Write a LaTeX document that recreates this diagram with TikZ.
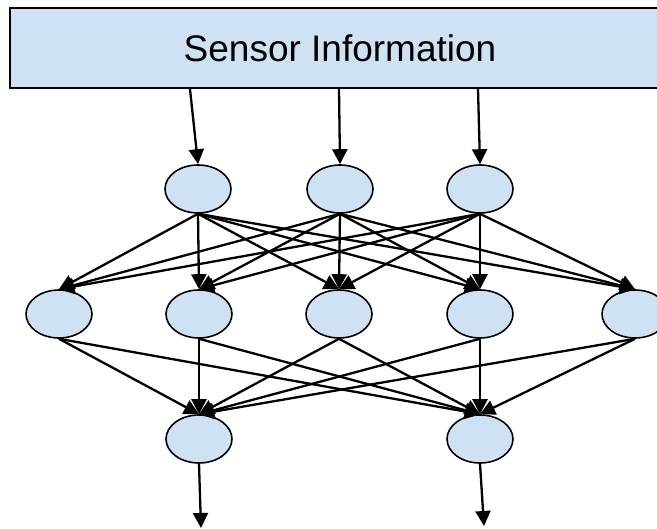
\documentclass[tikz,border=0pt]{standalone}
\usepackage{fontspec}
\setmainfont{Liberation Sans}
\usetikzlibrary{arrows.meta,shapes.geometric}
\definecolor{cellblue}{HTML}{CFE2F3}
\tikzset{
  neuron/.style={ellipse,draw,line width=1.6pt,fill=cellblue,minimum width=66pt,minimum height=48pt,inner sep=0pt},
  link/.style={line width=2.3pt,-{Triangle[length=15pt,width=15pt]}}
}

\begin{document}
\begin{tikzpicture}[x=1pt,y=-1pt]
    \useasboundingbox (0,0) rectangle (657,529);
    \clip (0,0) rectangle (657,529);
    \node[draw,line width=1.6pt,fill=cellblue,minimum width=660pt,minimum height=80pt,inner sep=0pt,
        font=\fontsize{37}{40}\selectfont] (sensor) at (340,48) {Sensor Information};
    \foreach \x [count=\k] in {198,340,480}
        \node[neuron] (t\k) at (\x,189) {};
    \foreach \x [count=\k] in {59,199,339,480,635}
        \node[neuron] (m\k) at (\x,314) {};
    \foreach \x [count=\k] in {199,480}
        \node[neuron] (b\k) at (\x,439) {};
    \coordinate (s1) at (190,89);
    \coordinate (s2) at (339,89);
    \coordinate (s3) at (478,89);
    \coordinate (o1) at (201,528);
    \coordinate (o2) at (484,526);
    \foreach \k in {1,2,3}
        \draw[link] (s\k) -- (t\k.north);
    \foreach \i in {1,2,3}
        \foreach \j in {1,...,5}
            \draw[link] (t\i.south) -- (m\j.north);
    \foreach \i in {1,...,5}
        \foreach \j in {1,2}
            \draw[link] (m\i.south) -- (b\j.north);
    \draw[link] (b1.south) -- (o1);
    \draw[link] (b2.south) -- (o2);
\end{tikzpicture}
\end{document}
